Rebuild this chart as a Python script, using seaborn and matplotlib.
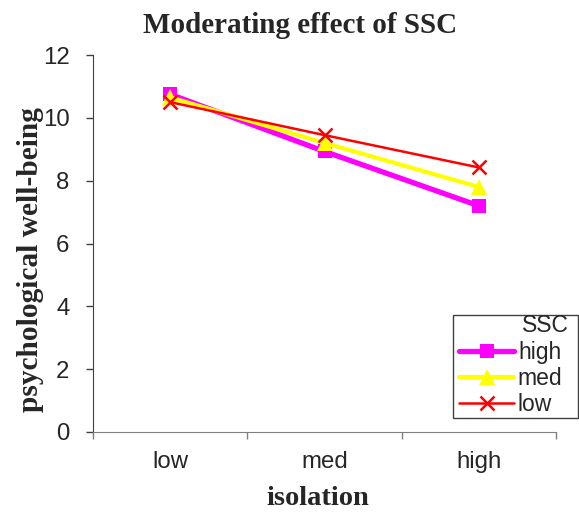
import matplotlib
matplotlib.use("Agg")
import matplotlib.pyplot as plt
from matplotlib.patches import Rectangle
import seaborn as sns
import pandas as pd

# Isolation levels on the x axis
isolation = ["low", "med", "high"]

# Psychological well-being for each SSC group
ssc_high = [10.75, 8.93, 7.2]
ssc_med = [10.65, 9.2, 7.8]
ssc_low = [10.5, 9.45, 8.42]

series_names = ["high", "med", "low"]
series_values = [ssc_high, ssc_med, ssc_low]

rows = []
for name, vals in zip(series_names, series_values):
    for xi, (lvl, v) in enumerate(zip(isolation, vals)):
        rows.append({"isolation": lvl, "pos": xi, "SSC": name, "wellbeing": v})
df = pd.DataFrame(rows)

sns.set_style("ticks")
plt.rcParams["font.family"] = ["Liberation Sans", "DejaVu Sans"]

W, H = 579, 512
fig = plt.figure(figsize=(W / 100, H / 100), dpi=100)
ax = fig.add_axes([93 / W, 1 - 432 / H, 463 / W, 377 / H])

styles = {
    "high": dict(color="#FF00FF", lw=3.8, marker="s", ms=10.5, mew=0),
    "med": dict(color="#FFFF00", lw=3.0, marker="^", ms=11.5, mew=0),
    "low": dict(color="#FF0000", lw=1.8, marker="x", ms=9.5, mew=1.8),
}

for name in series_names:
    st = styles[name]
    sub = df[df["SSC"] == name]
    sns.lineplot(data=sub, x="pos", y="wellbeing", ax=ax, color=st["color"],
                 linewidth=st["lw"], marker=st["marker"], markersize=st["ms"],
                 markeredgewidth=st["mew"], markeredgecolor=st["color"],
                 label=name, legend=False, zorder=3)

ax.set_xlim(-0.5, 2.5)
ax.set_ylim(0, 12)
ax.set_yticks(range(0, 13, 2))
ax.set_xticks([0, 1, 2])
ax.set_xticklabels(isolation)
ax.set_xticks([-0.5, 0.5, 1.5, 2.5], minor=True)
ax.tick_params(axis="x", which="major", length=0, labelsize=17.3, pad=14)
ax.tick_params(axis="x", which="minor", length=5, width=1, color="#808080",
               direction="out")
ax.tick_params(axis="y", length=5, width=1, labelsize=17.3, pad=12,
               color="#404040")

for side in ["top", "right"]:
    ax.spines[side].set_visible(False)
ax.spines["left"].set_color("#404040")
ax.spines["bottom"].set_color("#808080")

serif = ["Liberation Serif", "DejaVu Serif"]
ax.set_xlabel("isolation", fontsize=20.5, fontweight="bold", family=serif,
              va="baseline")
ax.xaxis.set_label_coords((318 - 93) / 463, (432 - 505) / 377)
ax.set_ylabel("psychological well-being", fontsize=21.2, fontweight="bold",
              family=serif, va="center")
ax.yaxis.set_label_coords((30.5 - 93) / 463, (432 - 260) / 377)
ax.set_title("Moderating effect of SSC", fontsize=21, fontweight="bold",
             family=serif, x=(300 - 93) / 463, y=(432 - 33) / 377, pad=0)

# Legend frame drawn as a fixed box, entries placed inside it
fig.patches.append(Rectangle((453 / W, 1 - 418 / H), 125 / W, 103 / H,
                             transform=fig.transFigure, fill=True,
                             facecolor="white", edgecolor="#404040",
                             linewidth=1.0, zorder=4))
handles, labels = ax.get_legend_handles_labels()
leg = fig.legend(handles, labels, title="SSC", loc="lower left",
                 bbox_to_anchor=(459 / W, 1 - 416 / H, 110 / W, 100 / H),
                 mode="expand", fontsize=16.5, title_fontsize=16.5,
                 frameon=False, handlelength=2.4, handletextpad=0.17,
                 borderpad=0.0, labelspacing=0.14, borderaxespad=0,
                 alignment="right")
leg.set_zorder(5)

fig.savefig("out.png", dpi=100)
